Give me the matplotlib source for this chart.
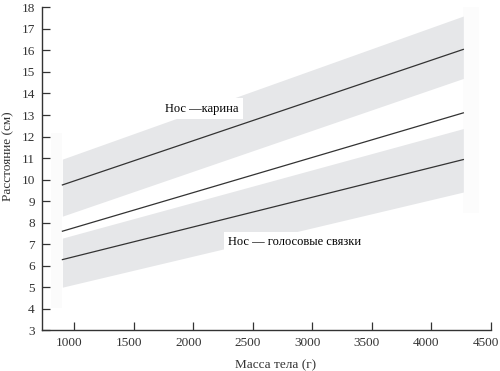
import matplotlib
matplotlib.use('Agg')
import matplotlib.pyplot as plt
import matplotlib.transforms as mtransforms
from matplotlib.patches import Rectangle

# масса тела (г), начало и конец линий
mass = [900, 4270]

# Нос - карина
carina = [9.75, 16.05]
carina_lo = [8.3, 14.7]
carina_hi = [10.95, 17.6]

# средняя линия (без подписи)
middle = [7.6, 13.1]

# Нос - голосовые связки
vocal = [6.28, 10.93]
vocal_lo = [5.0, 9.42]
vocal_hi = [7.28, 12.37]

xticks = [1000, 1500, 2000, 2500, 3000, 3500, 4000, 4500]
yticks = list(range(3, 19))

plt.rcParams['font.family'] = ['Liberation Serif', 'DejaVu Serif']

fig = plt.figure(figsize=(5, 3.71), dpi=100)
ax = fig.add_axes([0.0834, 0.11, 0.898, 0.870])

band_color = '#e6e7e9'
line_color = '#333333'

# бледные прямоугольники (фон подложки)
ax.add_patch(Rectangle((804, 4.05), 90, 8.1, facecolor='#fbfbfb', edgecolor='none', zorder=0))
ax.add_patch(Rectangle((4270, 8.43), 130, 9.8, facecolor='#fcfcfc', edgecolor='none', zorder=0))

ax.fill_between(mass, carina_lo, carina_hi, color=band_color, linewidth=0, zorder=1)
ax.fill_between(mass, vocal_lo, vocal_hi, color=band_color, linewidth=0, zorder=1)

ax.plot(mass, carina, color=line_color, lw=0.9, zorder=2)
ax.plot(mass, middle, color=line_color, lw=0.9, zorder=2)
ax.plot(mass, vocal, color=line_color, lw=0.9, zorder=2)

box = dict(facecolor='white', edgecolor='none', pad=3)
ax.text(1765, 13.3, 'Нос \u2014карина', fontsize=9, ha='left', va='center',
        bbox=box, zorder=3)
ax.text(2290, 7.1, 'Нос \u2014 голосовые связки', fontsize=9, ha='left', va='center',
        bbox=box, zorder=3)

ax.set_xlim(726, 4500)
ax.set_ylim(3, 18)
ax.set_xticks(xticks)
ax.set_yticks(yticks)

for s in ['top', 'right']:
    ax.spines[s].set_visible(False)
for s in ['left', 'bottom']:
    ax.spines[s].set_color('#333333')
    ax.spines[s].set_linewidth(1.0)

ax.tick_params(direction='in', length=6, width=0.9, color='#333333',
               labelsize=9.5, labelcolor='#333333', pad=5)

# подписи по оси x в оригинале чуть сдвинуты влево от рисок
shift = mtransforms.ScaledTranslation(-5 / 100, 0, fig.dpi_scale_trans)
for lbl in ax.get_xticklabels():
    lbl.set_transform(lbl.get_transform() + shift)

ax.set_xlabel('Масса тела (г)', fontsize=9.5, color='#333333', labelpad=7, x=0.52)
ax.set_ylabel('Расстояние (см)', fontsize=9.5, color='#333333', labelpad=5, y=0.54)

fig.savefig('out.png', dpi=100)
